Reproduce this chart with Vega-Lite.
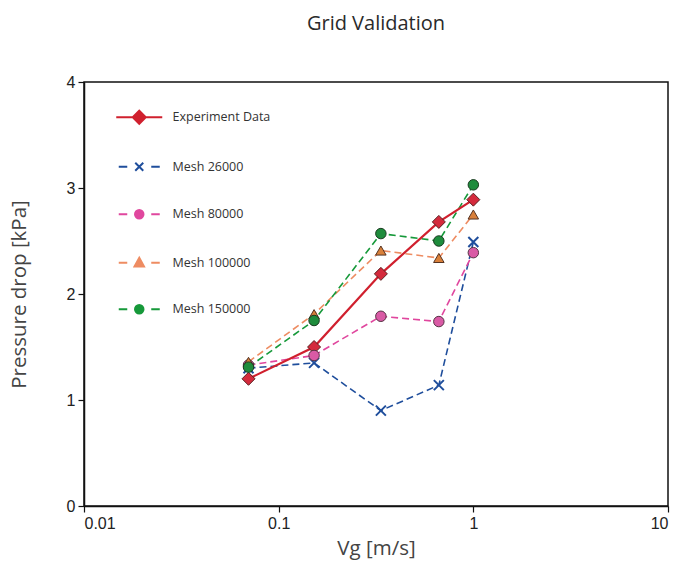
{
  "$schema": "https://vega.github.io/schema/vega-lite/v6.json",
  "width": 584,
  "height": 424,
  "autosize": {"type": "none"},
  "padding": {"left": 84, "top": 82, "right": 9, "bottom": 61},
  "background": "white",
  "title": {"text": "Grid Validation", "font": "Open Sans", "fontSize": 20, "fontWeight": 500, "color": "#2a2a2a", "anchor": "middle", "frame": "group", "baseline": "alphabetic", "offset": 24},
  "data": {"values": [
    {"series": "Experiment Data", "vg": 0.07, "dp": 1.2},
    {"series": "Experiment Data", "vg": 0.152, "dp": 1.5},
    {"series": "Experiment Data", "vg": 0.335, "dp": 2.19},
    {"series": "Experiment Data", "vg": 0.665, "dp": 2.68},
    {"series": "Experiment Data", "vg": 1.0, "dp": 2.89},
    {"series": "Mesh 26000", "vg": 0.07, "dp": 1.3},
    {"series": "Mesh 26000", "vg": 0.152, "dp": 1.35},
    {"series": "Mesh 26000", "vg": 0.335, "dp": 0.9},
    {"series": "Mesh 26000", "vg": 0.665, "dp": 1.14},
    {"series": "Mesh 26000", "vg": 1.0, "dp": 2.49},
    {"series": "Mesh 80000", "vg": 0.07, "dp": 1.33},
    {"series": "Mesh 80000", "vg": 0.152, "dp": 1.42},
    {"series": "Mesh 80000", "vg": 0.335, "dp": 1.79},
    {"series": "Mesh 80000", "vg": 0.665, "dp": 1.74},
    {"series": "Mesh 80000", "vg": 1.0, "dp": 2.39},
    {"series": "Mesh 100000", "vg": 0.07, "dp": 1.36},
    {"series": "Mesh 100000", "vg": 0.152, "dp": 1.81},
    {"series": "Mesh 100000", "vg": 0.335, "dp": 2.41},
    {"series": "Mesh 100000", "vg": 0.665, "dp": 2.34},
    {"series": "Mesh 100000", "vg": 1.0, "dp": 2.75},
    {"series": "Mesh 150000", "vg": 0.07, "dp": 1.31},
    {"series": "Mesh 150000", "vg": 0.152, "dp": 1.75},
    {"series": "Mesh 150000", "vg": 0.335, "dp": 2.57},
    {"series": "Mesh 150000", "vg": 0.665, "dp": 2.5},
    {"series": "Mesh 150000", "vg": 1.0, "dp": 3.03}
  ]},
  "encoding": {
    "x": {"field": "vg", "type": "quantitative", "scale": {"type": "log", "domain": [0.01, 10], "nice": false},
      "axis": {"title": "Vg [m/s]", "values": [0.01, 0.1, 1, 10], "format": "~g", "titlePadding": 7}},
    "y": {"field": "dp", "type": "quantitative", "scale": {"domain": [0, 4], "nice": false},
      "axis": {"title": "Pressure drop [kPa]", "values": [0, 1, 2, 3, 4], "titlePadding": 37}}
  },
  "layer": [
    {
      "transform": [{"filter": "datum.series != 'Experiment Data'"}],
      "mark": {"type": "line", "strokeWidth": 1.6, "strokeDash": [7, 4]},
      "encoding": {
        "stroke": {"field": "series", "type": "nominal",
          "scale": {"domain": ["Mesh 26000", "Mesh 80000", "Mesh 100000", "Mesh 150000"],
                    "range": ["#1f4e9c", "#e0479e", "#ee8c62", "#16993a"]},
          "legend": null}
      }
    },
    {
      "transform": [{"filter": "datum.series == 'Experiment Data'"}],
      "mark": {"type": "line", "strokeWidth": 2.2, "color": "#d0202e"},
      "encoding": {}
    },
    {
      "transform": [{"filter": "datum.series == 'Experiment Data'"}],
      "mark": {"type": "point", "filled": true, "opacity": 1, "size": 100, "shape": "M0,-1.3L1.3,0L0,1.3L-1.3,0Z", "fill": "#d42a3c", "stroke": "#5a2020", "strokeWidth": 1}
    },
    {
      "transform": [{"filter": "datum.series == 'Mesh 26000'"}],
      "mark": {"type": "point", "filled": false, "opacity": 1, "size": 100, "shape": "M-1,-1L1,1M1,-1L-1,1", "stroke": "#1f4e9c", "strokeWidth": 2}
    },
    {
      "transform": [{"filter": "datum.series == 'Mesh 80000'"}],
      "mark": {"type": "point", "filled": true, "opacity": 1, "size": 110, "shape": "circle", "fill": "#d95aa5", "stroke": "#553344", "strokeWidth": 1}
    },
    {
      "transform": [{"filter": "datum.series == 'Mesh 100000'"}],
      "mark": {"type": "point", "filled": true, "opacity": 1, "size": 110, "shape": "triangle-up", "fill": "#d9803a", "stroke": "#553322", "strokeWidth": 1}
    },
    {
      "transform": [{"filter": "datum.series == 'Mesh 150000'"}],
      "mark": {"type": "point", "filled": true, "opacity": 1, "size": 110, "shape": "circle", "fill": "#1e8c3c", "stroke": "#1a3a20", "strokeWidth": 1}
    },
    {
      "mark": {"type": "point", "filled": true, "opacity": 0, "size": 100},
      "encoding": {
        "color": {"field": "series", "type": "nominal",
          "scale": {"domain": ["Experiment Data", "Mesh 26000", "Mesh 80000", "Mesh 100000", "Mesh 150000"],
                    "range": ["#d0202e", "#1f4e9c", "#e0479e", "#ee8c62", "#16993a"]},
          "legend": {"title": null, "orient": "none", "legendX": 49, "legendY": 29, "padding": 0,
            "rowPadding": 30.5, "labelOffset": 27, "labelFont": "Open Sans", "labelFontSize": 12.5, "labelColor": "#333",
            "symbolSize": 100,
            "encode": {"symbols": {"update": {"opacity": {"value": 1}, "stroke": {"scale": "color", "field": "value"}, "strokeWidth": {"value": 2}}}}}},
        "shape": {"field": "series", "type": "nominal",
          "scale": {"domain": ["Experiment Data", "Mesh 26000", "Mesh 80000", "Mesh 100000", "Mesh 150000"],
                    "range": [
                      "M-4.6,0H4.6M0,-1.3L1.3,0L0,1.3L-1.3,0Z",
                      "M-4.1,0H-2.4M2.4,0H4.1M-0.8,-0.8L0.8,0.8M0.8,-0.8L-0.8,0.8",
                      "M-4.1,0H-2.4M2.4,0H4.1M-0.85,0A0.85,0.85 0 1,0 0.85,0A0.85,0.85 0 1,0 -0.85,0Z",
                      "M-4.1,0H-2.4M2.4,0H4.1M0,-1L0.95,0.75L-0.95,0.75Z",
                      "M-4.1,0H-2.4M2.4,0H4.1M-0.85,0A0.85,0.85 0 1,0 0.85,0A0.85,0.85 0 1,0 -0.85,0Z"
                    ]},
          "legend": {"title": null, "orient": "none", "legendX": 49, "legendY": 29, "padding": 0,
            "rowPadding": 30.5, "labelOffset": 27, "labelFont": "Open Sans", "labelFontSize": 12.5, "labelColor": "#333",
            "symbolSize": 100}}
      }
    }
  ],
  "config": {
    "view": {"stroke": "#111", "strokeWidth": 1.5},
    "axis": {"grid": false, "domainColor": "#111", "domainWidth": 1.5, "tickColor": "#111", "tickWidth": 1.2, "tickSize": 6,
      "labelFont": "Liberation Sans", "labelFontSize": 16, "labelColor": "#222", "labelPadding": 3,
      "titleFont": "Open Sans", "titleFontSize": 20.5, "titleFontWeight": "normal", "titleColor": "#444"}
  }
}
